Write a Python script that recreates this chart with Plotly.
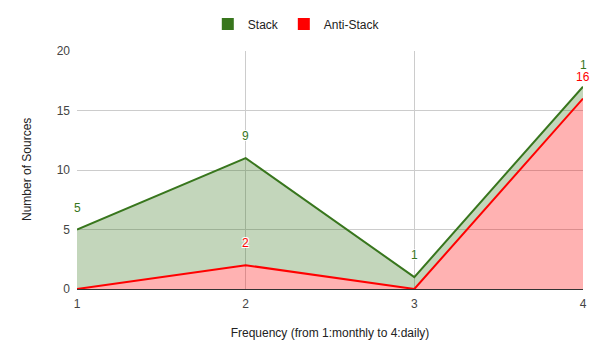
import plotly.graph_objects as go

freq = [1, 2, 3, 4]
anti_stack = [0, 2, 0, 16]
stack = [5, 9, 1, 1]

anti_labels = ["", "2", "", "16"]
stack_labels = ["5", "9", "1", "1"]

GREEN = "#38761d"
RED = "#ff0000"
HALO = "1px 1px 0 white, -1px -1px 0 white, 1px -1px 0 white, -1px 1px 0 white"

fig = go.Figure()
fig.add_trace(go.Scatter(
    x=freq, y=anti_stack, name="Anti-Stack", stackgroup="one", mode="lines",
    line=dict(color=RED, width=2), fillcolor="rgba(255,0,0,0.3)", showlegend=False))
fig.add_trace(go.Scatter(
    x=freq, y=stack, name="Stack", stackgroup="one", mode="lines",
    line=dict(color=GREEN, width=2), fillcolor="rgba(56,118,29,0.3)", showlegend=False))

# legend entries with square swatches
fig.add_trace(go.Scatter(x=[None], y=[None], mode="markers", name="Stack",
                         marker=dict(symbol="square", size=12, color=GREEN)))
fig.add_trace(go.Scatter(x=[None], y=[None], mode="markers", name="Anti-Stack",
                         marker=dict(symbol="square", size=12, color=RED)))

totals = [a + s for a, s in zip(anti_stack, stack)]
for x, y, t in zip(freq, totals, stack_labels):
    if t:
        fig.add_annotation(x=x, y=y, text=t, showarrow=False, yshift=22,
                           font=dict(color=GREEN, size=12, shadow=HALO))
for x, y, t in zip(freq, anti_stack, anti_labels):
    if t:
        fig.add_annotation(x=x, y=y, text=t, showarrow=False, yshift=22,
                           font=dict(color=RED, size=12, shadow=HALO))

# y-axis title as a rotated annotation
fig.add_annotation(text="Number of Sources", xref="paper", yref="paper",
                   x=-0.0988, y=0.5, textangle=-90, showarrow=False,
                   xanchor="center", yanchor="middle",
                   font=dict(size=12, color="#222"))

# page body has an 8px margin; size the figure so the plot lands where the reference has it
fig.update_layout(
    width=592, height=351,
    margin=dict(l=69, r=17, t=43, b=70, autoexpand=False),
    paper_bgcolor="white", plot_bgcolor="white",
    font=dict(family="Liberation Sans, Arial, sans-serif", size=12, color="#222"),
    legend=dict(orientation="h", xref="container", x=0.487, xanchor="center",
                y=1.113, yanchor="middle",
                traceorder="normal", font=dict(size=12, color="#222"), itemwidth=30),
    xaxis=dict(range=[1, 4], tickvals=freq, ticktext=[str(f) for f in freq],
               showgrid=True, gridcolor="#cccccc", zeroline=False,
               showline=True, linecolor="#333333", linewidth=1,
               tickfont=dict(color="#444"), ticks="", automargin=False,
               ticklabelstandoff=4,
               title=dict(text="Frequency (from 1:monthly to 4:daily)",
                          font=dict(size=12, color="#222"), standoff=18)),
    yaxis=dict(range=[0, 20], dtick=5, showgrid=True, gridcolor="#cccccc",
               zeroline=False, tickfont=dict(color="#444"), ticks="", automargin=False,
               ticklabelstandoff=6),
    showlegend=True,
)

fig.write_html("out.html")
